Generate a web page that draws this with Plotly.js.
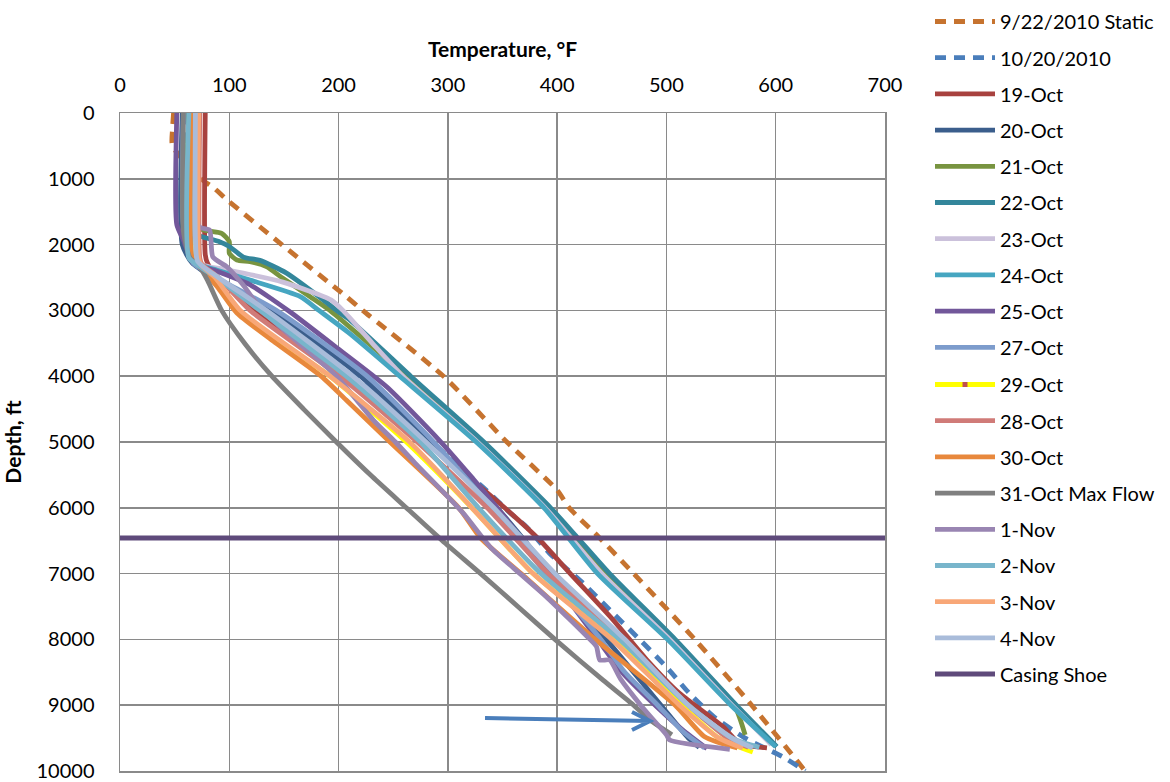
<!DOCTYPE html>
<html><head><meta charset="utf-8">
<script src="https://cdn.plot.ly/plotly-3.0.1.min.js"></script>
<style>html,body{margin:0;padding:0;background:#fff;}#chart{width:1170px;height:782px;}</style>
</head><body><div id="chart"></div>
<script>
// ---- data (depth ft, temperature F) ----
const staticDepth = [0, 250, 500, 1000, 1140, 1320, 2000, 2790, 3000, 4000, 5000, 5730, 6000, 6460, 7000, 8000, 9000, 10000];
const staticTemp  = [49, 48, 48, 74, 86, 98, 148, 207, 222, 296, 354, 400, 411, 439, 470, 526, 578, 627];

const oct20_2010Depth = [0, 2100, 2300, 2600, 3000, 4000, 5070, 5470, 5730, 6080, 6290, 6690, 7150, 7550, 8010, 8420, 8820, 9170, 9500, 9790, 10000];
const oct20_2010Temp  = [60, 61, 70, 95, 132, 214, 290, 317, 335, 357, 372, 393, 424, 448, 476, 500, 521, 543, 572, 607, 627];

const oct19Depth = [0, 2150, 2280, 2490, 2840, 3000, 4000, 5000, 6000, 6490, 7000, 7700, 8310, 8820, 9330, 9580, 9650];
const oct19Temp  = [78, 78, 80, 89, 112, 122, 203, 280, 352, 384, 412, 451, 482, 512, 552, 567, 592];

const oct20Depth = [0, 2000, 2280, 2500, 3000, 4000, 5000, 6000, 7000, 8000, 9000, 9500, 9640];
const oct20Temp  = [57, 57, 66, 85, 137, 220, 283, 345, 395, 445, 495, 520, 530];

const oct21Depth = [0, 1700, 1789, 1829, 1956, 2132, 2234, 2260, 2336, 2512, 2792, 3000, 4000, 5000, 6000, 7000, 8000, 9000, 9450];
const oct21Temp  = [63, 64, 80, 93, 100, 100, 107, 119, 134, 149, 174, 192, 262, 330, 391, 445, 505, 562, 572];

const oct22Depth = [0, 1800, 1880, 1950, 2030, 2190, 2240, 2430, 2790, 3000, 3140, 4000, 5000, 6000, 6460, 7000, 8000, 9000, 9630];
const oct22Temp  = [64, 65, 75, 90, 100, 113, 128, 152, 182, 198, 210, 266, 333, 394, 419, 448, 508, 564, 601];

const oct23Depth = [0, 2250, 2330, 2390, 2570, 2840, 3000, 3500, 4000, 5000, 6000, 7000, 8000, 9000, 9600];
const oct23Temp  = [67, 68, 80, 100, 149, 193, 204, 231, 259, 327, 389, 441, 503, 560, 596];

const oct24Depth = [0, 2200, 2300, 2390, 2540, 2790, 3000, 3350, 4000, 5000, 6000, 7000, 8000, 9000, 9630];
const oct24Temp  = [66, 66, 72, 89, 119, 165, 182, 210, 256, 326, 388, 437, 501, 559, 600];

const oct25Depth = [0, 1700, 1930, 2280, 2400, 2600, 2840, 3040, 3550, 4160, 4970, 5500, 6000, 7000, 8000, 8510, 8880, 9380, 9660];
const oct25Temp  = [52, 52, 58, 67, 88, 118, 140, 157, 197, 244, 292, 320, 345, 392, 437, 460, 482, 515, 537];

const oct27Depth = [0, 1700, 2280, 2500, 3000, 4000, 5000, 6000, 7000, 8000, 8500, 9000, 9400, 9650];
const oct27Temp  = [58, 58, 67, 88, 143, 226, 287, 340, 390, 440, 462, 492, 515, 535];

const oct29Depth = [0, 2200, 2300, 2500, 3000, 4000, 5000, 6000, 7000, 8000, 9000, 9500, 9710];
const oct29Temp  = [70, 70, 72, 86, 107, 192, 262, 322, 378, 452, 514, 548, 579];

const oct28Depth = [0, 2200, 2300, 2500, 3000, 4000, 5000, 6000, 7000, 8000, 9000, 9500, 9640];
const oct28Temp  = [73, 73, 75, 90, 119, 201, 272, 336, 392, 460, 520, 556, 575];

const oct30Depth = [0, 2200, 2340, 2640, 3040, 3500, 4000, 4362, 5000, 6000, 6460, 7000, 8000, 9000, 9480, 9650];
const oct30Temp  = [66, 66, 73, 89, 107, 143, 184, 207, 247, 310, 330, 367, 435, 508, 535, 565];

const oct31Depth = [0, 1800, 2200, 2340, 2540, 3000, 3500, 4000, 4500, 5000, 5530, 6000, 6500, 7000, 7500, 8000, 8620, 9000, 9225, 9450];
const oct31Temp  = [58, 58, 64, 73, 80, 93, 114, 139, 168, 198, 231, 262, 295, 330, 364, 398, 442, 470, 485, 505];

const nov1Depth = [0, 1720, 1750, 1780, 2190, 2340, 2600, 3000, 4000, 4670, 5000, 5320, 6080, 6600, 7000, 7350, 8000, 8110, 8313, 8313, 8600, 9030, 9450, 9530, 9670];
const nov1Temp  = [72, 72, 75, 82, 85, 98, 112, 130, 198, 232, 252, 270, 314, 339, 366, 390, 430, 436, 439, 448, 458, 478, 500, 503, 558];

const nov2Depth = [0, 2200, 2300, 2500, 3000, 4000, 5000, 6000, 7000, 8000, 9000, 9500, 9640];
const nov2Temp  = [63, 63, 70, 88, 128, 207, 275, 328, 385, 457, 520, 560, 585];

const nov3Depth = [0, 2200, 2300, 2500, 3000, 4000, 5000, 6000, 7000, 8000, 9000, 9500, 9650];
const nov3Temp  = [72, 72, 74, 87, 110, 192, 265, 322, 378, 450, 512, 548, 570];

const nov4Depth = [0, 1900, 2250, 2500, 3000, 4000, 5000, 6000, 7000, 8000, 9000, 9500, 9650];
const nov4Temp  = [69, 69, 71, 90, 134, 213, 280, 342, 398, 462, 520, 560, 579];

const casingShoeDepth = [6460, 6460];
const casingShoeTemp  = [0, 700];

const arrowTemp  = [334, 485];
const arrowDepth = [9195, 9240];
const arrowHeadTemp  = [468.5, 485, 468.5];
const arrowHeadDepth = [9103, 9240, 9377];

const xTicks = [0, 100, 200, 300, 400, 500, 600, 700];
const yTicks = [0, 1000, 2000, 3000, 4000, 5000, 6000, 7000, 8000, 9000, 10000];

// ---- series definitions ----
const series = [
  {name: '9/22/2010 Static', t: staticTemp, d: staticDepth, color: '#C6732F', dash: '11px,8px'},
  {name: '10/20/2010', t: oct20_2010Temp, d: oct20_2010Depth, color: '#4A7EBB', dash: '11px,8px'},
  {name: '19-Oct', t: oct19Temp, d: oct19Depth, color: '#A8423F'},
  {name: '20-Oct', t: oct20Temp, d: oct20Depth, color: '#3B5E8C'},
  {name: '21-Oct', t: oct21Temp, d: oct21Depth, color: '#789440'},
  {name: '22-Oct', t: oct22Temp, d: oct22Depth, color: '#33869B'},
  {name: '23-Oct', t: oct23Temp, d: oct23Depth, color: '#CBC1DB'},
  {name: '24-Oct', t: oct24Temp, d: oct24Depth, color: '#46A6C1'},
  {name: '25-Oct', t: oct25Temp, d: oct25Depth, color: '#72579A'},
  {name: '27-Oct', t: oct27Temp, d: oct27Depth, color: '#7D9CCC'},
  {name: '29-Oct', t: oct29Temp, d: oct29Depth, color: '#FFFF00', marker: '#C0504D'},
  {name: '28-Oct', t: oct28Temp, d: oct28Depth, color: '#D07B78'},
  {name: '30-Oct', t: oct30Temp, d: oct30Depth, color: '#E8883C'},
  {name: '31-Oct Max Flow', t: oct31Temp, d: oct31Depth, color: '#808080'},
  {name: '1-Nov', t: nov1Temp, d: nov1Depth, color: '#9985B2'},
  {name: '2-Nov', t: nov2Temp, d: nov2Depth, color: '#78B5CB'},
  {name: '3-Nov', t: nov3Temp, d: nov3Depth, color: '#F8A777'},
  {name: '4-Nov', t: nov4Temp, d: nov4Depth, color: '#A9BCDA'},
  {name: 'Casing Shoe', t: casingShoeTemp, d: casingShoeDepth, color: '#5F4A7B'}
];

const FONT = 'Lato, "Open Sans", sans-serif';

const traces = series.map((s, i) => {
  const tr = {
    type: 'scatter',
    x: s.t, y: s.d,
    name: s.name,
    legend: i < 10 ? 'legend' : 'legend2',
    legendgroup: 'g' + i,
    mode: 'lines',
    line: {color: s.color, width: 4.8, dash: s.dash || 'solid', shape: 'spline', smoothing: 0.6},
    hoverinfo: 'skip'
  };
  if (s.name === 'Casing Shoe') { tr.line.shape = 'linear'; tr.line.width = 5; }
  if (s.marker) {
    tr.mode = 'lines+markers';
    tr.marker = {symbol: 'square', size: 5,
      color: s.t.map((v, k) => k === 0 ? s.marker : 'rgba(0,0,0,0)')};
  }
  return tr;
});

const arrowPath = 'M' + arrowTemp[0] + ',' + arrowDepth[0] + 'L' + arrowTemp[1] + ',' + arrowDepth[1] +
  'M' + arrowHeadTemp[0] + ',' + arrowHeadDepth[0] + 'L' + arrowHeadTemp[1] + ',' + arrowHeadDepth[1] +
  'L' + arrowHeadTemp[2] + ',' + arrowHeadDepth[2];

const gridC = '#8A8A8A';
const legendBase = {
  xref: 'container', yref: 'container', xanchor: 'left', yanchor: 'top',
  font: {family: FONT, size: 20, color: '#000'},
  itemwidth: 60, tracegroupgap: 7.2, bgcolor: 'rgba(0,0,0,0)', borderwidth: 0
};
const layout = {
  width: 1170, height: 782,
  margin: {l: 120, r: 285, t: 113, b: 11, pad: 0},
  paper_bgcolor: '#fff', plot_bgcolor: '#fff',
  font: {family: FONT, size: 20, color: '#000'},
  showlegend: true,
  legend: Object.assign({}, legendBase, {x: 930 / 1170, y: 1 - 2 / 782}),
  legend2: Object.assign({}, legendBase, {x: 930 / 1170, y: 1 - 365 / 782}),
  xaxis: {
    side: 'top', range: [0, 700], tickvals: xTicks, ticktext: xTicks.map(String),
    showgrid: true, gridcolor: gridC, gridwidth: 1.5, zeroline: false,
    showline: true, linecolor: gridC, linewidth: 1.5, mirror: true,
    ticks: '', ticklabelstandoff: 12,
    tickfont: {family: FONT, size: 20},
    title: {text: 'Temperature, °F', font: {family: FONT, size: 21, weight: 'bold'}, standoff: 8}
  },
  yaxis: {
    range: [10000, 0], tickvals: yTicks, ticktext: yTicks.map(String),
    showgrid: true, gridcolor: gridC, gridwidth: 1.5, zeroline: false,
    showline: true, linecolor: gridC, linewidth: 1.5, mirror: true,
    ticks: '', ticklabelstandoff: 20,
    tickfont: {family: FONT, size: 20},
    title: {text: 'Depth, ft', font: {family: FONT, size: 21, weight: 'bold'}, standoff: 9}
  },
  shapes: [{type: 'path', xref: 'x', yref: 'y', path: arrowPath,
    line: {color: '#4A7EBB', width: 4}}]
};

Plotly.newPlot('chart', traces, layout, {displayModeBar: false, staticPlot: true});
</script></body></html>
